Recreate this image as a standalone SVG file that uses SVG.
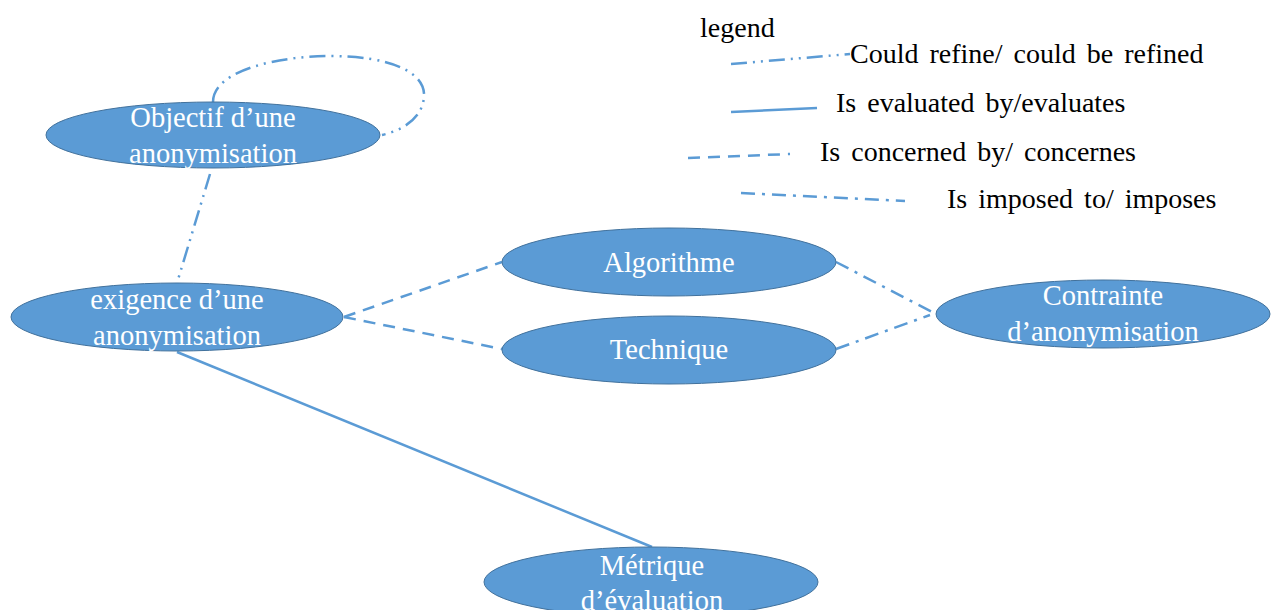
<svg xmlns="http://www.w3.org/2000/svg" width="1272" height="610" viewBox="0 0 1272 610">
<style>
.node ellipse{fill:#5B9BD5;stroke:#41719C;stroke-width:1}
.node text{fill:#fff;font-family:"Liberation Serif","Times New Roman",serif;font-size:28.5px;text-anchor:middle}
.lg{fill:#000;font-family:"Liberation Serif","Times New Roman",serif;font-size:28px;word-spacing:4px}
.c{fill:none;stroke:#5B9BD5;stroke-width:2.5}
.refine{stroke-dasharray:16 6 2 6 2 6}
.solid{}
.concern{stroke-dasharray:12 8}
.impose{stroke-dasharray:14 7 3 7}
</style>
<rect width="1272" height="610" fill="#fff"/>
<g id="connectors">
<path class="c refine" d="M213,102 C213,70 280,56 330,56 C390,56 426,72 424,97 C422,120 400,131 382,135"/>
<line class="c refine" x1="210" y1="174" x2="177" y2="283"/>
<line class="c concern" x1="344" y1="317" x2="502" y2="262"/>
<line class="c concern" x1="344" y1="317" x2="502" y2="349"/>
<line class="c impose" x1="836" y1="262" x2="936" y2="314"/>
<line class="c impose" x1="836" y1="349" x2="930" y2="315"/>
<line class="c solid" x1="177" y1="352" x2="652" y2="547"/>
</g>
<g id="n-objectif" class="node">
<ellipse cx="213" cy="135" rx="167" ry="33"/>
<text x="213" y="127">Objectif d’une</text>
<text x="213" y="163">anonymisation</text>
</g>
<g id="n-exigence" class="node">
<ellipse cx="177" cy="317" rx="166" ry="34"/>
<text x="177" y="309">exigence d’une</text>
<text x="177" y="345">anonymisation</text>
</g>
<g id="n-algorithme" class="node">
<ellipse cx="669" cy="262" rx="167" ry="34"/>
<text x="669" y="272">Algorithme</text>
</g>
<g id="n-technique" class="node">
<ellipse cx="669" cy="350" rx="167" ry="34"/>
<text x="669" y="359">Technique</text>
</g>
<g id="n-contrainte" class="node">
<ellipse cx="1103" cy="314" rx="167" ry="34"/>
<text x="1103" y="305">Contrainte</text>
<text x="1103" y="341">d’anonymisation</text>
</g>
<g id="n-metrique" class="node">
<ellipse cx="651" cy="582" rx="167" ry="35"/>
<text x="652" y="575">Métrique</text>
<text x="652" y="610">d’évaluation</text>
</g>
<g id="legend">
<text class="lg" x="700" y="37">legend</text>
<line class="c refine" x1="731" y1="64" x2="850" y2="54" stroke-width="3"/>
<text class="lg" x="850" y="63">Could refine/ could be refined</text>
<line class="c" x1="731" y1="112" x2="817" y2="108" stroke-width="3"/>
<text class="lg" x="836" y="112">Is evaluated by/evaluates</text>
<line class="c concern" x1="688" y1="158" x2="790" y2="154" stroke-width="3"/>
<text class="lg" x="820" y="161">Is concerned by/ concernes</text>
<line class="c impose" x1="741" y1="193" x2="905" y2="201" stroke-width="3"/>
<text class="lg" x="947" y="208">Is imposed to/ imposes</text>
</g>
</svg>
